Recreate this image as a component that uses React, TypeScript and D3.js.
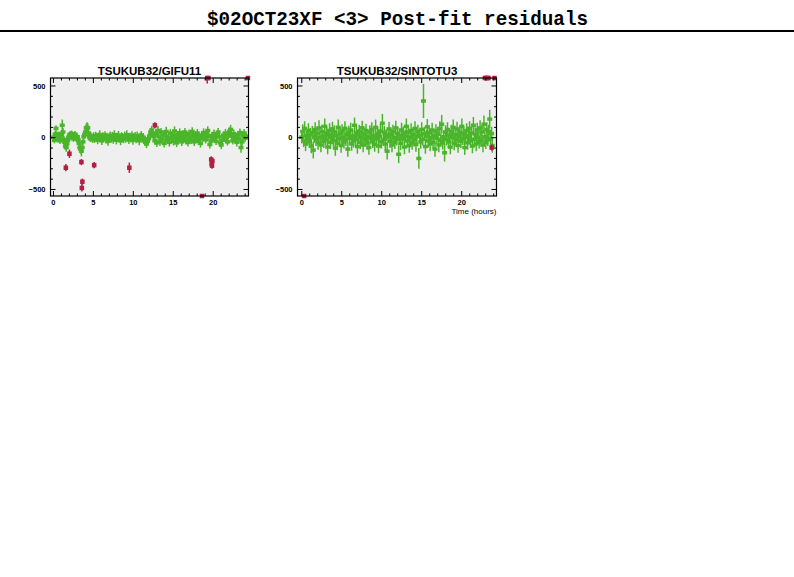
import * as d3 from "d3";

// [time (hours), residual, sigma]
type Pt = [number, number, number];

const gifuGood: Pt[] = [
  [0.02,5,35],[0.12,-25,30],[0.22,35,30],[0.32,90,30],[0.42,25,35],[0.52,-15,30],[0.62,30,30],[0.72,5,35],[0.82,-30,30],[0.92,15,30],
  [1.02,40,35],[1.1,120,55],[1.2,55,40],[1.3,-15,35],[1.4,-45,35],[1.5,-80,35],[1.6,-95,40],[1.7,-60,35],[1.8,-25,30],[1.9,5,30],
  [2.0,25,30],[2.1,35,30],[2.2,10,30],[2.3,40,30],[2.4,25,30],[2.5,-10,30],[2.6,20,30],[2.7,35,30],[2.8,5,30],[2.9,-15,30],
  [3.0,10,30],[3.1,-20,30],[3.2,-55,35],[3.3,-95,40],[3.4,-110,45],[3.5,-130,50],[3.6,-95,45],[3.7,-40,35],[3.8,10,30],[3.9,30,30],
  [4.0,55,35],[4.1,95,40],[4.2,100,50],[4.3,95,45],[4.4,45,35],[4.5,10,30],[4.6,-10,30],[4.7,20,30],[4.8,0,30],[4.9,-20,30],
  [5.02,15,38],[5.15,-10,40],[5.28,20,38],[5.41,5,42],[5.54,-25,38],[5.67,10,40],[5.8,30,42],[5.93,-5,38],[6.06,-30,40],[6.19,15,38],
  [6.32,0,40],[6.45,25,38],[6.58,-15,42],[6.71,10,38],[6.84,-35,42],[6.97,5,38],[7.1,20,40],[7.23,-10,38],[7.36,15,40],[7.49,-20,38],
  [7.62,30,42],[7.75,0,38],[7.88,-25,40],[8.01,10,38],[8.14,25,40],[8.27,-5,38],[8.4,-30,42],[8.53,15,38],[8.66,5,40],[8.79,-15,38],
  [8.92,20,40],[9.05,-10,38],[9.18,30,42],[9.31,0,38],[9.44,-20,40],[9.57,10,38],[9.7,-5,40],[9.83,25,38],[9.96,-25,42],[10.09,5,38],
  [10.22,15,40],[10.35,-15,38],[10.48,20,40],[10.61,0,38],[10.74,-30,42],[10.87,10,38],[11.0,25,40],[11.13,-10,38],[11.26,5,40],[11.39,-20,38],
  [11.52,-45,35],[11.65,-60,40],[11.78,-35,35],[11.91,-10,30],[12.04,20,30],[12.17,55,35],[12.3,75,40],[12.43,45,35],[12.56,10,30],
  [12.69,-30,35],[12.82,40,40],[12.95,-50,40],[13.08,70,45],[13.21,10,35],[13.34,-40,40],[13.47,55,40],[13.6,-15,35],[13.73,30,40],[13.86,-55,40],
  [13.99,20,35],[14.12,60,45],[14.25,-25,35],[14.38,5,35],[14.51,-45,40],[14.64,45,40],[14.77,-10,35],[14.9,25,35],[15.03,-35,40],[15.16,65,45],
  [15.29,0,35],[15.42,-50,40],[15.55,30,35],[15.68,-20,35],[15.81,50,40],[15.94,10,35],[16.07,-40,40],[16.2,35,35],[16.33,-5,35],[16.46,55,40],
  [16.59,-30,35],[16.72,20,35],[16.85,-45,40],[16.98,40,40],[17.11,0,35],[17.24,-25,35],[17.37,60,40],[17.5,15,35],[17.63,-40,40],[17.76,30,35],
  [17.89,-15,35],[18.02,45,40],[18.15,-35,35],[18.28,10,35],[18.41,-55,40],[18.54,25,35],[18.67,-10,35],[18.8,50,40],[18.93,5,35],
  [19.06,-20,35],[19.19,35,40],[19.32,70,40],[19.45,15,35],[19.58,-65,40],[19.71,-30,35],[19.84,20,35],[19.97,-10,35],[20.1,40,40],[20.23,0,35],
  [20.36,-35,35],[20.49,30,35],[20.62,55,40],[20.75,10,35],[20.88,-50,40],[21.01,-70,40],[21.14,-25,35],[21.27,25,35],[21.4,-5,35],[21.53,45,40],
  [21.66,0,35],[21.79,-40,35],[21.92,20,35],[22.05,60,40],[22.18,80,45],[22.31,15,35],[22.44,-30,35],[22.57,40,40],[22.7,-15,35],[22.83,10,35],
  [22.96,-45,40],[23.09,30,35],[23.22,-10,35],[23.35,50,40],[23.48,-95,50],[23.61,-40,40],[23.74,20,35],[23.87,45,40],[24.0,-5,35],[24.13,15,35],
];

const gifuFlagged: Pt[] = [
  [1.55,-290,35],[2.0,-155,40],[3.5,-235,30],[3.62,-425,30],[3.55,-485,35],[5.1,-265,30],[9.5,-290,50],[12.7,120,30],
  [18.6,-700,40],[19.25,700,175],[19.4,700,60],[19.75,-210,30],[19.8,-250,30],[19.85,-270,30],[19.9,-225,25],[24.35,700,40],
];

const sintGood: Pt[] = [
  [0.0,5,60],[0.12,60,70],[0.24,-30,60],[0.36,90,70],[0.48,-60,70],[0.6,20,60],[0.72,-10,65],[0.84,70,70],[0.96,-40,60],[1.08,30,65],
  [1.2,-80,70],[1.32,50,65],[1.44,-120,80],[1.56,10,60],[1.68,80,70],[1.8,-20,60],[1.92,40,65],
  [2.04,-50,65],[2.16,95,75],[2.28,0,60],[2.4,-70,70],[2.52,60,65],[2.64,15,60],[2.76,-35,65],[2.88,110,75],[3.0,-15,60],[3.12,45,65],
  [3.24,-90,70],[3.36,25,60],[3.48,70,70],[3.6,-45,65],[3.72,5,60],[3.84,85,70],[3.96,-25,60],
  [4.08,55,65],[4.2,-100,75],[4.32,20,60],[4.44,-55,65],[4.56,100,75],[4.68,-10,60],[4.8,40,65],[4.92,-75,70],[5.04,65,65],[5.16,0,60],
  [5.28,-40,65],[5.4,90,70],[5.52,-20,60],[5.64,30,65],[5.76,-110,75],[5.88,50,65],[6.0,-5,60],
  [6.12,75,70],[6.24,-60,65],[6.36,15,60],[6.48,-30,65],[6.6,120,75],[6.72,-15,60],[6.84,45,65],[6.96,-85,70],[7.08,25,60],[7.2,60,65],
  [7.32,-45,65],[7.44,0,60],[7.56,95,70],[7.68,-70,70],[7.8,35,60],[7.92,-20,65],[8.04,70,65],
  [8.16,-50,65],[8.28,10,60],[8.4,-95,70],[8.52,55,65],[8.64,-5,60],[8.76,80,70],[8.88,-35,65],[9.0,20,60],[9.12,-65,70],[9.24,100,75],
  [9.36,-10,60],[9.48,40,65],[9.6,-80,70],[9.72,15,60],[9.84,65,65],[9.96,-40,65],[10.08,140,90],
  [10.2,-20,60],[10.32,50,65],[10.44,-60,70],[10.56,25,60],[10.68,-130,80],[10.8,10,60],[10.92,85,70],[11.04,-35,65],[11.16,30,60],[11.28,-70,70],
  [11.4,60,65],[11.52,0,60],[11.64,-45,65],[11.76,95,70],[11.88,-15,60],[12.0,40,65],[12.12,-160,85],
  [12.24,20,60],[12.36,-55,65],[12.48,75,70],[12.6,-10,60],[12.72,45,65],[12.84,-90,70],[12.96,15,60],[13.08,110,75],[13.2,-30,65],[13.32,55,65],
  [13.44,-75,70],[13.56,5,60],[13.68,70,70],[13.8,-50,65],[13.92,30,60],[14.04,-20,65],[14.16,90,70],
  [14.28,-65,70],[14.4,10,60],[14.52,60,65],[14.64,-200,100],[14.76,25,60],[14.88,-40,65],[15.0,80,70],[15.12,-15,60],[15.22,355,165],[15.34,40,65],
  [15.46,-85,70],[15.58,15,60],[15.7,105,75],[15.82,-30,65],[15.94,50,65],[16.06,-60,70],[16.18,0,60],
  [16.3,75,70],[16.42,-45,65],[16.54,20,60],[16.66,-110,75],[16.78,65,65],[16.9,-5,60],[17.02,35,65],[17.14,-70,70],[17.26,90,70],[17.38,-25,60],
  [17.5,130,90],[17.62,-50,65],[17.74,10,60],[17.86,-145,85],[17.98,55,65],[18.1,-15,60],[18.22,80,70],
  [18.34,-40,65],[18.46,25,60],[18.58,-90,70],[18.7,60,65],[18.82,0,60],[18.94,100,75],[19.06,-55,65],[19.18,30,60],[19.3,-20,65],[19.42,85,70],
  [19.54,-75,70],[19.66,15,60],[19.78,50,65],[19.9,-35,65],[20.02,110,75],[20.14,-10,60],[20.26,40,65],
  [20.38,-95,70],[20.5,20,60],[20.62,70,70],[20.74,-50,65],[20.86,5,60],[20.98,90,70],[21.1,-30,65],[21.22,45,65],[21.34,-80,70],[21.46,120,80],
  [21.58,-15,60],[21.7,35,65],[21.82,-60,70],[21.94,75,70],[22.06,0,60],[22.18,-40,65],[22.3,95,75],
  [22.42,-25,60],[22.54,55,65],[22.66,-70,70],[22.78,130,85],[22.9,10,60],[23.02,-45,65],[23.14,80,70],[23.26,-20,60],[23.38,60,65],[23.5,180,90],
  [23.62,-10,60],[23.74,40,65],[23.82,-75,70],
];

const sintFlagged: Pt[] = [
  [0.3,-700,40],[22.9,700,40],[23.05,700,40],[23.2,700,40],[23.35,700,40],[24.1,700,40],[23.75,-95,30],
];

const yDomain: [number, number] = [-563, 577];
const xMajorTicks = [0, 5, 10, 15, 20];
const yMajorTicks = [-500, 0, 500];
const xMinorTicks = d3.range(0, 25, 1);
const yMinorTicks = d3.range(-500, 501, 100);

const GREEN = "#4ab52a";
const RED = "#b21e44";

function Panel({ title, good, flagged, xDomain, left, right, xTitle }: {
  title: string; good: Pt[]; flagged: Pt[]; xDomain: [number, number];
  left: number; right: number; xTitle?: string;
}) {
  const top = 78, bottom = 196;
  const x = d3.scaleLinear().domain(xDomain).range([left, right]);
  const y = d3.scaleLinear().domain(yDomain).range([bottom, top]);
  const cl = (v: number) => Math.max(yDomain[0], Math.min(yDomain[1], v));

  const mark = (p: Pt, i: number, color: string, w: number, h: number) => {
    const px = x(p[0]);
    const lo = cl(p[1] - p[2]);
    const hi = cl(p[1] + p[2]);
    const py = y(cl(p[1]));
    return (
      <g key={i}>
        {hi > lo && (
          <line x1={px} x2={px} y1={y(lo)} y2={y(hi)} stroke={color} strokeWidth={1.5} />
        )}
        <rect x={px - w / 2} y={py - h / 2} width={w} height={h} fill={color} />
      </g>
    );
  };

  const tick = { major: 5, minor: 2.5 };

  return (
    <g>
      <rect x={left} y={top} width={right - left} height={bottom - top} fill="#efefef" />
      {good.map((p, i) => mark(p, i, GREEN, 5, 3.5))}
      {flagged.map((p, i) => mark(p, i, RED, 4.5, 4.5))}
      <rect x={left} y={top} width={right - left} height={bottom - top} fill="none" stroke="#000" strokeWidth={1.2} />

      {/* x ticks, inward on bottom and top */}
      {xMinorTicks.map((t) => {
        const len = t % 5 === 0 ? tick.major : tick.minor;
        const px = x(t);
        return (
          <g key={"x" + t}>
            <line x1={px} x2={px} y1={bottom} y2={bottom - len} stroke="#000" />
            <line x1={px} x2={px} y1={top} y2={top + len} stroke="#000" />
          </g>
        );
      })}
      {yMinorTicks.map((t) => {
        const len = t % 500 === 0 ? tick.major : tick.minor;
        const py = y(t);
        return (
          <g key={"y" + t}>
            <line x1={left} x2={left + len} y1={py} y2={py} stroke="#000" />
            <line x1={right} x2={right - len} y1={py} y2={py} stroke="#000" />
          </g>
        );
      })}

      {xMajorTicks.map((t) => (
        <text key={"xl" + t} x={x(t)} y={204.5} textAnchor="middle"
          fontFamily="Liberation Sans, Arial, sans-serif" fontSize={7.5} fontWeight="bold">
          {t}
        </text>
      ))}
      {yMajorTicks.map((t) => (
        <text key={"yl" + t} x={left - 5} y={y(t) + 2.6} textAnchor="end"
          fontFamily="Liberation Sans, Arial, sans-serif" fontSize={7.5} fontWeight="bold">
          {t < 0 ? "\u2212" + Math.abs(t) : t}
        </text>
      ))}

      <text x={(left + right) / 2} y={75} textAnchor="middle"
        fontFamily="Liberation Sans, Arial, sans-serif" fontSize={11.5} fontWeight={600}>
        {title}
      </text>
      {xTitle && (
        <text x={right} y={213.5} textAnchor="end"
          fontFamily="Liberation Sans, Arial, sans-serif" fontSize={8}>
          {xTitle}
        </text>
      )}
    </g>
  );
}

export default function App() {
  const width = 794, height = 577;
  return (
    <svg width={width} height={height} style={{ position: "absolute", left: 0, top: 0, background: "#fff" }}>
      <rect width={width} height={height} fill="#fff" />
      <text x={397.5} y={25} textAnchor="middle" fontFamily="Liberation Mono, monospace"
        fontWeight="bold" fontSize={21} textLength={381} lengthAdjust="spacingAndGlyphs">
        $02OCT23XF &lt;3&gt; Post-fit residuals
      </text>
      <line x1={0} x2={width} y1={31} y2={31} stroke="#000" strokeWidth={2} />

      <Panel title="TSUKUB32/GIFU11" good={gifuGood} flagged={gifuFlagged}
        xDomain={[-0.37, 24.42]} left={50.5} right={248.5} />
      <Panel title="TSUKUB32/SINTOTU3" good={sintGood} flagged={sintFlagged}
        xDomain={[-0.53, 24.35]} left={297.5} right={496.5} xTitle="Time (hours)" />
    </svg>
  );
}
